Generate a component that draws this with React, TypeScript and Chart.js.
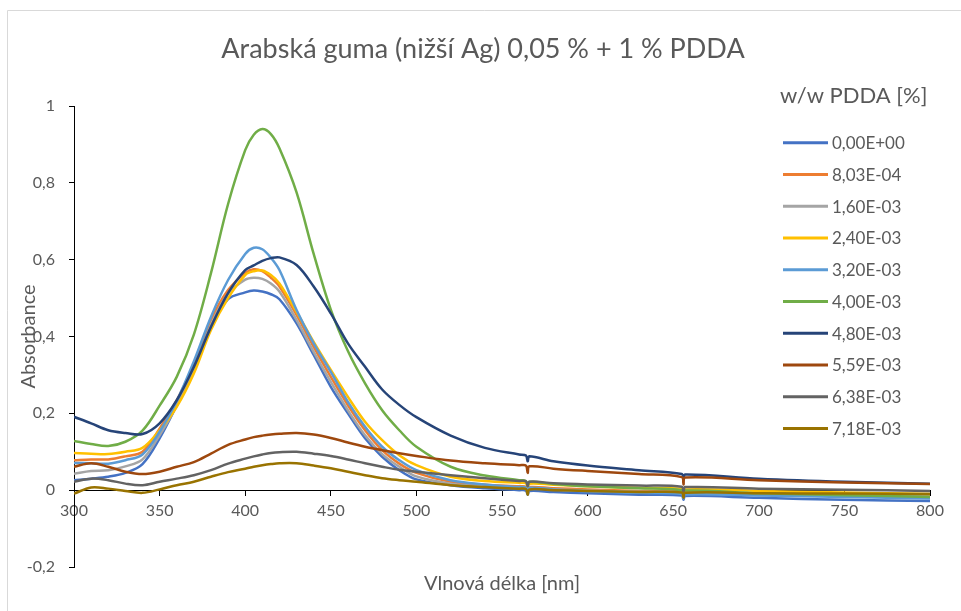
import React, { useEffect, useRef } from "react";
import { Chart, registerables } from "chart.js";

Chart.register(...registerables);

const TITLE = "Arabská guma (nižší Ag) 0,05 % + 1 % PDDA";
const X_TITLE = "Vlnová délka [nm]";
const Y_TITLE = "Absorbance";
const LEGEND_TITLE = "w/w PDDA [%]";

const WAVELENGTHS = [300, 310, 320, 330, 340, 350, 360, 370, 380, 390, 400, 405, 410, 415, 420, 430, 440, 450, 460, 470, 480, 490, 500, 520, 540, 560, 564, 565, 566, 580, 600, 630, 655, 656, 657, 700, 750, 800];

const SERIES_LABELS = ["0,00E+00", "8,03E-04", "1,60E-03", "2,40E-03", "3,20E-03", "4,00E-03", "4,80E-03", "5,59E-03", "6,38E-03", "7,18E-03"];
const SERIES_COLORS = ["#4472C4", "#ED7D31", "#A5A5A5", "#FFC000", "#5B9BD5", "#70AD47", "#264478", "#9E480E", "#636363", "#997300"];

const A_0 = [0.026, 0.03, 0.035, 0.045, 0.068, 0.135, 0.221, 0.313, 0.425, 0.497, 0.515, 0.52, 0.517, 0.51, 0.497, 0.434, 0.352, 0.269, 0.2, 0.135, 0.087, 0.052, 0.028, 0.013, 0.005, 0.0, -0.001, -0.012, -0.002, -0.005, -0.008, -0.012, -0.014, -0.025, -0.015, -0.02, -0.025, -0.028];
const A_803E4 = [0.078, 0.08, 0.08, 0.088, 0.1, 0.16, 0.234, 0.326, 0.443, 0.521, 0.565, 0.575, 0.57, 0.553, 0.53, 0.456, 0.373, 0.295, 0.221, 0.156, 0.104, 0.069, 0.045, 0.022, 0.014, 0.01, 0.009, -0.003, 0.008, 0.005, 0.002, -0.002, -0.005, -0.017, -0.006, -0.01, -0.013, -0.015];
const A_160E3 = [0.043, 0.05, 0.052, 0.062, 0.08, 0.143, 0.219, 0.313, 0.43, 0.512, 0.548, 0.553, 0.55, 0.538, 0.517, 0.443, 0.36, 0.282, 0.208, 0.143, 0.094, 0.061, 0.036, 0.017, 0.01, 0.006, 0.005, -0.006, 0.004, 0.002, -0.001, -0.004, -0.006, -0.018, -0.007, -0.009, -0.011, -0.013];
const A_240E3 = [0.097, 0.095, 0.094, 0.1, 0.11, 0.156, 0.217, 0.304, 0.417, 0.5, 0.56, 0.57, 0.572, 0.56, 0.538, 0.464, 0.386, 0.313, 0.243, 0.178, 0.13, 0.091, 0.065, 0.035, 0.024, 0.019, 0.018, 0.006, 0.017, 0.014, 0.01, 0.006, 0.003, -0.009, 0.002, -0.002, -0.006, -0.01];
const A_320E3 = [0.071, 0.07, 0.069, 0.078, 0.093, 0.152, 0.232, 0.335, 0.451, 0.547, 0.615, 0.631, 0.627, 0.605, 0.573, 0.469, 0.382, 0.308, 0.23, 0.165, 0.113, 0.078, 0.052, 0.026, 0.015, 0.008, 0.007, -0.005, 0.006, 0.002, -0.003, -0.007, -0.01, -0.022, -0.011, -0.014, -0.018, -0.022];
const A_400E3 = [0.128, 0.12, 0.115, 0.126, 0.155, 0.22, 0.295, 0.405, 0.565, 0.745, 0.885, 0.925, 0.94, 0.927, 0.89, 0.775, 0.615, 0.47, 0.362, 0.278, 0.208, 0.156, 0.113, 0.061, 0.038, 0.026, 0.024, 0.012, 0.022, 0.016, 0.01, 0.005, 0.0, -0.012, -0.001, -0.008, -0.013, -0.018];
const A_480E3 = [0.191, 0.174, 0.156, 0.149, 0.146, 0.174, 0.234, 0.321, 0.425, 0.513, 0.573, 0.585, 0.597, 0.604, 0.606, 0.586, 0.53, 0.46, 0.382, 0.321, 0.262, 0.222, 0.19, 0.142, 0.11, 0.093, 0.09, 0.075, 0.088, 0.075, 0.064, 0.052, 0.042, 0.028, 0.041, 0.03, 0.022, 0.017];
const A_559E3 = [0.061, 0.07, 0.061, 0.048, 0.042, 0.048, 0.061, 0.073, 0.095, 0.118, 0.132, 0.138, 0.142, 0.145, 0.147, 0.149, 0.145, 0.136, 0.124, 0.113, 0.104, 0.096, 0.089, 0.077, 0.07, 0.065, 0.064, 0.045, 0.062, 0.056, 0.05, 0.042, 0.034, 0.015, 0.033, 0.026, 0.02, 0.016];
const A_638E3 = [0.022, 0.03, 0.026, 0.017, 0.013, 0.022, 0.03, 0.039, 0.052, 0.069, 0.082, 0.088, 0.093, 0.097, 0.099, 0.1, 0.095, 0.089, 0.08, 0.07, 0.061, 0.053, 0.048, 0.039, 0.031, 0.024, 0.023, 0.01, 0.022, 0.018, 0.015, 0.012, 0.009, -0.004, 0.008, 0.004, 0.001, -0.002];
const A_718E3 = [-0.009, 0.007, 0.004, -0.002, -0.007, 0.002, 0.013, 0.022, 0.035, 0.047, 0.056, 0.061, 0.065, 0.068, 0.07, 0.07, 0.064, 0.057, 0.048, 0.039, 0.031, 0.026, 0.022, 0.013, 0.008, 0.004, 0.003, -0.012, 0.002, 0.0, -0.002, -0.005, -0.006, -0.02, -0.007, -0.008, -0.009, -0.01];

const SERIES_VALUES = [A_0, A_803E4, A_160E3, A_240E3, A_320E3, A_400E3, A_480E3, A_559E3, A_638E3, A_718E3];

const X_MIN = 300;
const X_MAX = 800;
const X_STEP = 50;
const Y_MIN = -0.2;
const Y_MAX = 1;
const Y_STEP = 0.2;

const FONT = "Lato, 'Open Sans', sans-serif";
const TEXT_COLOR = "#595959";

const W = 961;
const H = 611;

const decorPlugin = {
  id: "decor",
  afterDraw(chart: any) {
    const ctx = chart.ctx;
    const area = chart.chartArea;
    ctx.save();
    // outer frame
    ctx.strokeStyle = "#D9D9D9";
    ctx.lineWidth = 1;
    ctx.beginPath();
    ctx.moveTo(7.5, H);
    ctx.lineTo(7.5, 10.5);
    ctx.lineTo(W, 10.5);
    ctx.stroke();

    ctx.fillStyle = TEXT_COLOR;
    // title
    ctx.font = `27px ${FONT}`;
    ctx.textAlign = "center";
    ctx.textBaseline = "middle";
    ctx.fillText(TITLE, 483, 49);

    // x title
    ctx.font = `20px ${FONT}`;
    ctx.fillText(X_TITLE, (area.left + area.right) / 2, 584);

    // y title
    ctx.save();
    ctx.translate(29, (area.top + area.bottom) / 2);
    ctx.rotate(-Math.PI / 2);
    ctx.fillText(Y_TITLE, 0, 0);
    ctx.restore();

    // legend
    ctx.textAlign = "left";
    ctx.font = `22px ${FONT}`;
    ctx.fillText(LEGEND_TITLE, 780, 96);
    ctx.font = `17px ${FONT}`;
    const y0 = 142.7;
    const dy = 31.75;
    SERIES_LABELS.forEach((lab, i) => {
      const y = y0 + i * dy;
      ctx.strokeStyle = SERIES_COLORS[i];
      ctx.lineWidth = 3;
      ctx.beginPath();
      ctx.moveTo(783, y);
      ctx.lineTo(828, y);
      ctx.stroke();
      ctx.fillStyle = TEXT_COLOR;
      ctx.fillText(lab, 832, y + 1);
    });
    ctx.restore();
  },
};

function fmt(v: number) {
  const r = Math.round(v * 10) / 10;
  if (r === 0) return "0";
  return String(r).replace(".", ",");
}

export default function App() {
  const ref = useRef<HTMLCanvasElement | null>(null);

  useEffect(() => {
    if (!ref.current) return;
    const datasets = SERIES_VALUES.map((vals, i) => ({
      label: SERIES_LABELS[i],
      data: WAVELENGTHS.map((x, j) => ({ x, y: vals[j] })),
      borderColor: SERIES_COLORS[i],
      backgroundColor: SERIES_COLORS[i],
      borderWidth: 2.5,
      pointRadius: 0,
      fill: false,
      tension: 0.35,
      order: SERIES_VALUES.length - i,
    }));

    const chart = new Chart(ref.current, {
      type: "line",
      data: { datasets },
      plugins: [decorPlugin],
      options: {
        animation: false,
        responsive: false,
        devicePixelRatio: 1,
        layout: { padding: { left: 0, top: 106, right: W - 930, bottom: H - 567 } },
        plugins: {
          legend: { display: false },
          title: { display: false },
          tooltip: { enabled: false },
        },
        scales: {
          x: {
            type: "linear",
            min: X_MIN,
            max: X_MAX,
            position: { y: 0 } as any,
            afterFit: (s: any) => {
              s.height = 0;
            },
            grid: { drawOnChartArea: false, drawTicks: true, tickLength: 5, color: "#000000" },
            border: { display: true, color: "#000000", width: 1 },
            ticks: {
              stepSize: X_STEP,
              padding: 6,
              color: TEXT_COLOR,
              font: { family: FONT, size: 16 },
              maxRotation: 0,
              autoSkip: false,
              callback: (v: any) => String(v),
            },
          },
          y: {
            type: "linear",
            min: Y_MIN,
            max: Y_MAX,
            position: "left",
            afterFit: (s: any) => {
              s.width = 74;
            },
            grid: { drawOnChartArea: false, drawTicks: true, tickLength: 5, color: "#000000" },
            border: { display: true, color: "#000000", width: 1 },
            ticks: {
              stepSize: Y_STEP,
              padding: 14,
              color: TEXT_COLOR,
              font: { family: FONT, size: 16 },
              autoSkip: false,
              callback: (v: any) => fmt(Number(v)),
            },
          },
        },
      },
    });
    return () => chart.destroy();
  }, []);

  return (
    <div style={{ position: "absolute", left: 0, top: 0, width: W, height: H, background: "#ffffff" }}>
      <canvas ref={ref} width={W} height={H} style={{ width: W, height: H, display: "block" }} />
    </div>
  );
}
